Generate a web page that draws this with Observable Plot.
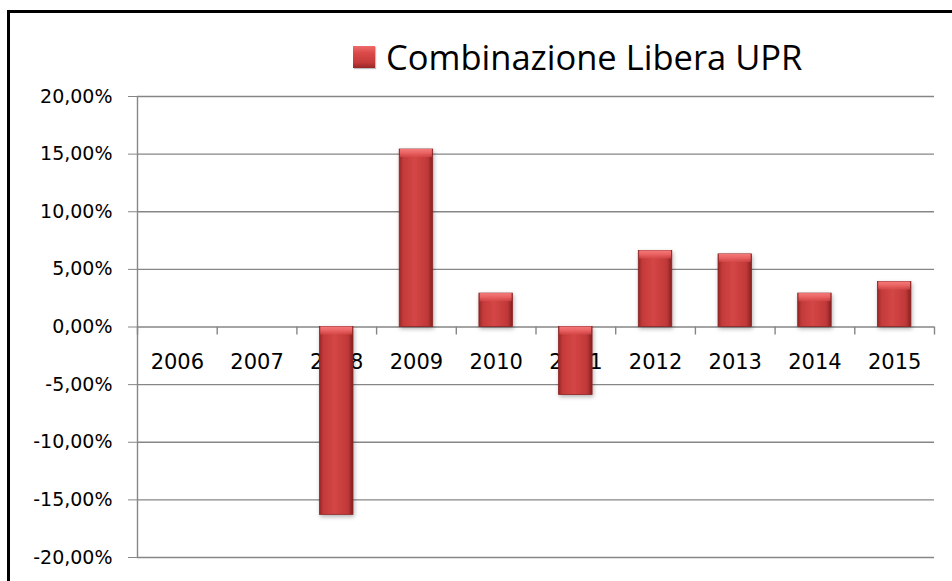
<!DOCTYPE html>
<html><head><meta charset="utf-8">
<script src="https://cdn.jsdelivr.net/npm/d3@7"></script>
<script src="https://cdn.jsdelivr.net/npm/@observablehq/plot@0.6"></script>
<style>
body{margin:0;background:#fff;}
#wrap{position:relative;width:952px;height:581px;overflow:hidden;background:#fff;}
#frame{position:absolute;left:7px;top:10px;width:1000px;height:700px;border-left:3px solid #000;border-top:3px solid #000;pointer-events:none;}
#legend{position:absolute;left:353px;top:33px;display:flex;align-items:center;font-family:"Open Sans",sans-serif;font-size:34.5px;color:#000;white-space:nowrap;}
#legend .sw{width:22px;height:22px;margin-right:11px;background:linear-gradient(180deg,#ee6c6c 0%,#dc4a4a 30%,#c43a3a 75%,#962626 100%);box-shadow:1px 1px 1px rgba(0,0,0,0.25);}
#chart{position:absolute;left:0;top:0;}
</style>
</head><body>
<div id="wrap">
  <div id="chart"></div>
  <div id="legend"><div class="sw"></div><span>Combinazione Libera UPR</span></div>
  <div id="frame"></div>
</div>
<script>
const years = ["2006","2007","2008","2009","2010","2011","2012","2013","2014","2015"];
const values = [0, 0, -0.163, 0.154, 0.029, -0.059, 0.066, 0.063, 0.029, 0.039];
const yTicks = [-0.20, -0.15, -0.10, -0.05, 0, 0.05, 0.10, 0.15, 0.20];
const seriesName = "Combinazione Libera UPR";

const data = years.map((y, i) => ({year: y, idx: i, value: values[i]}));
const bounds = d3.range(years.length + 1);
const fmt = d => (d * 100).toFixed(2).replace(".", ",") + "%";
const capTop = d => Math.max(d.value, 0);

const chart = Plot.plot({
  width: 952,
  height: 581,
  marginLeft: 137,
  marginRight: 18,
  marginTop: 96,
  marginBottom: 24,
  style: {fontFamily: "DejaVu Sans", background: "transparent"},
  x: {domain: [0, years.length], axis: null},
  y: {domain: [-0.20, 0.20], axis: null},
  marks: [
    Plot.ruleY(yTicks, {stroke: "#868686", strokeWidth: 1.4}),
    Plot.ruleX([0], {stroke: "#868686", strokeWidth: 1.4}),
    Plot.axisY({ticks: yTicks, tickFormat: fmt, tickSize: 9, tickPadding: 16, fontSize: 19, stroke: "#868686", color: "#000", label: null}),
    Plot.ruleX(bounds, {x: d => d, y1: 0, y2: -0.007, stroke: "#868686", strokeWidth: 1.4}),
    Plot.text(data, {x: d => d.idx + 0.5, y: 0, text: "year", dy: 35, fontSize: 21, fill: "#000", lineAnchor: "middle"}),
    Plot.rectY(data.filter(d => d.value !== 0), {x1: d => d.idx + 0.29, x2: d => d.idx + 0.71, y1: 0, y2: "value", fill: "url(#barGrad)", stroke: "#8a2222", strokeWidth: 0.8, title: d => `${seriesName} ${d.year}: ${fmt(d.value)}`}),
    Plot.rectY(data.filter(d => d.value !== 0), {x1: d => d.idx + 0.30, x2: d => d.idx + 0.70, y1: capTop, y2: d => capTop(d) - 0.007, fill: "url(#capGrad)", stroke: "none"})
  ]
});

const ns = "http://www.w3.org/2000/svg";
const defs = document.createElementNS(ns, "defs");
defs.innerHTML = `
<linearGradient id="barGrad" x1="0" x2="1" y1="0" y2="0">
  <stop offset="0" stop-color="#962626"/>
  <stop offset="0.12" stop-color="#c43a3a"/>
  <stop offset="0.45" stop-color="#d44646"/>
  <stop offset="0.85" stop-color="#c03838"/>
  <stop offset="1" stop-color="#852020"/>
</linearGradient>
<linearGradient id="capGrad" x1="0" x2="0" y1="0" y2="1">
  <stop offset="0" stop-color="#f47a7a"/>
  <stop offset="0.5" stop-color="#ea6262"/>
  <stop offset="1" stop-color="#d84c4c" stop-opacity="0.6"/>
</linearGradient>
<filter id="shadow" x="-20%" y="-20%" width="140%" height="140%">
  <feDropShadow dx="1" dy="2" stdDeviation="2" flood-color="#000" flood-opacity="0.3"/>
</filter>`;
chart.insertBefore(defs, chart.firstChild);
const rects = chart.querySelector('g[aria-label="rect"]');
if (rects) rects.setAttribute("filter", "url(#shadow)");
document.getElementById("chart").appendChild(chart);
</script>
</body></html>
